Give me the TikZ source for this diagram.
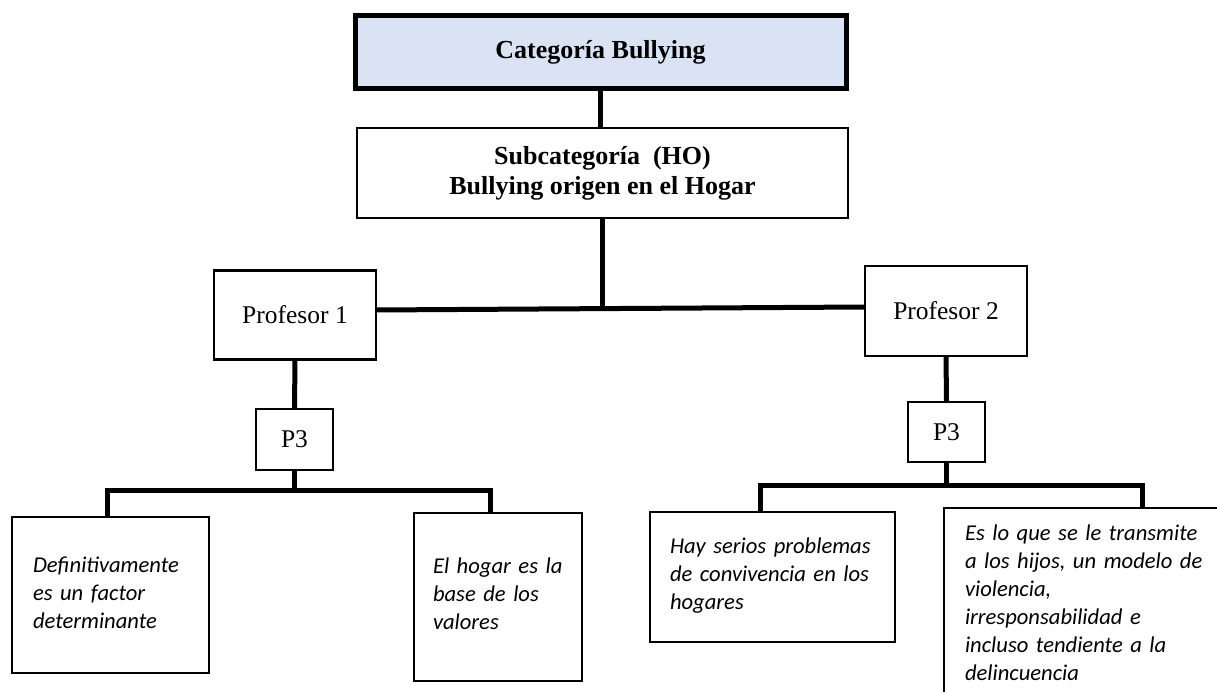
\documentclass[tikz,border=0pt]{standalone}
\usepackage{fontspec}
\setmainfont{Liberation Serif}
\newfontfamily\leaffont{Carlito}
\definecolor{catblue}{RGB}{218,227,243}
\begin{document}
\begin{tikzpicture}[x=1pt,y=-1pt,
  catbox/.style={draw=black,line width=2.6pt,inner sep=0pt,outer sep=0pt,align=center,
    font=\fontsize{25.5}{30}\selectfont},
  profbox/.style={draw=black,line width=2.7pt,inner sep=0pt,outer sep=0pt,align=center,
    font=\fontsize{25.5}{30}\selectfont},
  leafbox/.style={draw=black,line width=2.8pt,inner ysep=0pt,outer sep=0pt,anchor=north west,
    align=left,font=\leaffont\itshape\fontsize{22.6}{28}\selectfont},
  link/.style={draw=black,line width=5pt,line join=miter}
]
\useasboundingbox (0,0) rectangle (1217,692);
\fill[white] (0,0) rectangle (1217,692);
\clip (0,0) rectangle (1217,692);

% top levels
\node[catbox,line width=5pt,fill=catblue,minimum width=491pt,minimum height=73pt,
  font=\bfseries\fontsize{26}{30}\selectfont] (top) at (600.5,52.5) {Categoría Bullying};
\node[catbox,line width=2.5pt,minimum width=491pt,minimum height=90pt,
  font=\bfseries\fontsize{26}{30}\selectfont] (sub) at (602.5,173)
  {Subcategoría\ \ (HO)\\Bullying origen en el Hogar};

\node[profbox,minimum width=162pt,minimum height=89pt] (p1) at (295,315) {Profesor 1};
\node[profbox,minimum width=162pt,minimum height=90pt] (p2) at (946,311) {Profesor 2};

\node[profbox,minimum width=77pt,minimum height=61pt] (qa) at (294.5,439.5) {P3};
\node[profbox,minimum width=77pt,minimum height=60pt] (qb) at (946.5,432) {P3};

% leaves
\node[leafbox,inner xsep=21pt,text width=155pt,text height=55pt,text depth=101pt] (la) at (12,517)
  {\mbox{Definitivamente}\\\mbox{es un factor}\\\mbox{determinante}};
\node[leafbox,inner xsep=19pt,text width=130pt,text height=60pt,text depth=108pt] (lb) at (414,513)
  {\mbox{El hogar es la}\\\mbox{base de los}\\\mbox{valores}};
\node[leafbox,inner xsep=20pt,text width=205pt,text height=41pt,text depth=89pt] (lc) at (650,512)
  {\mbox{Hay serios problemas}\\\mbox{de convivencia en los}\\\mbox{hogares}};
\node[leafbox,inner xsep=21pt,text width=280pt,text height=32pt,text depth=200pt] (ld) at (944,508)
  {\mbox{Es lo que se le transmite}\\\mbox{a los hijos, un modelo de}\\\mbox{violencia,}\\\mbox{irresponsabilidad e}\\\mbox{incluso tendiente a la}\\\mbox{delincuencia}};

% connectors
\coordinate (hj) at (602.5,309);
\coordinate (ja) at (294.5,490);
\coordinate (jb) at (946.5,485);

\draw[link] (top.south) -- (top.south |- sub.north);
\draw[link] (sub.south) -- (hj);
\draw[link] ([yshift=5pt]p1.east) -- ([yshift=4pt]p2.west);
\draw[link] (p1.south) -- (qa.north);
\draw[link] (p2.south) -- (qb.north);
\draw[link] (qa.south) -- (ja);
\draw[link] (qb.south) -- (jb);
\draw[link] ([xshift=95pt]la.north west) |- (ja) -| ([xshift=76pt]lb.north west);
\draw[link] ([xshift=110pt]lc.north west) |- (jb) -| ([xshift=198pt]ld.north west);
\end{tikzpicture}
\end{document}
